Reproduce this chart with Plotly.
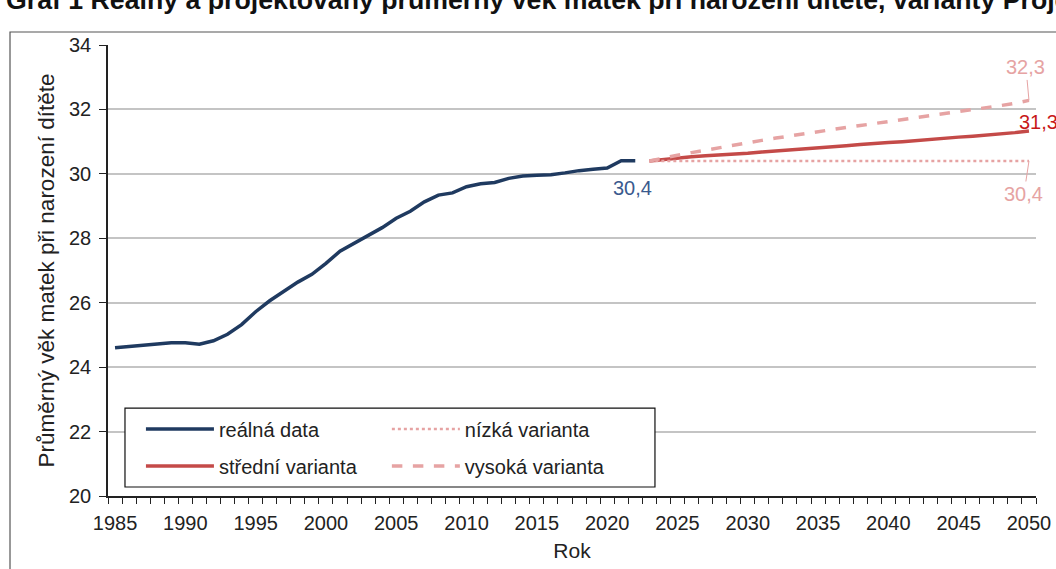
import plotly.graph_objects as go

# reálná data 1985-2022
years_real = list(range(1985, 2023))
age_real = [24.60, 24.64, 24.68, 24.72, 24.76, 24.76, 24.71, 24.82, 25.02, 25.32,
            25.72, 26.06, 26.34, 26.64, 26.88, 27.22, 27.60, 27.85, 28.10, 28.33,
            28.62, 28.84, 29.13, 29.34, 29.41, 29.60, 29.69, 29.73, 29.86, 29.93,
            29.96, 29.97, 30.03, 30.10, 30.14, 30.18, 30.41, 30.41]

# projekce 2023-2050
years_proj = list(range(2023, 2051))
age_low = [30.40, 30.40, 30.40, 30.40, 30.40, 30.40, 30.40, 30.40, 30.40, 30.40,
           30.40, 30.40, 30.40, 30.40, 30.40, 30.40, 30.40, 30.40, 30.40, 30.40,
           30.40, 30.40, 30.40, 30.40, 30.40, 30.40, 30.40, 30.40]
age_mid = [30.40, 30.45, 30.50, 30.53, 30.56, 30.58, 30.60, 30.64, 30.68, 30.71,
           30.74, 30.76, 30.79, 30.83, 30.87, 30.91, 30.95, 30.97, 31.00, 31.04,
           31.07, 31.11, 31.14, 31.17, 31.20, 31.24, 31.28, 31.33]
age_high = [30.40, 30.50, 30.58, 30.66, 30.74, 30.81, 30.88, 30.96, 31.04, 31.11,
            31.18, 31.25, 31.32, 31.38, 31.44, 31.50, 31.56, 31.62, 31.68, 31.74,
            31.80, 31.86, 31.92, 31.98, 32.05, 32.12, 32.19, 32.28]

x_ticks = list(range(1985, 2051, 5))
y_ticks = list(range(20, 35, 2))

navy = "#1f3a60"
red = "#c44a48"
pink = "#e6a3a3"
font = "Liberation Sans, Arial, sans-serif"


def fmt(v):
    return f"{v:.1f}".replace(".", ",")


fig = go.Figure()
fig.add_trace(go.Scatter(x=years_real, y=age_real, mode="lines", name="reálná data",
                         line=dict(color=navy, width=3.5), legend="legend", legendgroup="a"))
fig.add_trace(go.Scatter(x=years_proj, y=age_mid, mode="lines", name="střední varianta",
                         line=dict(color=red, width=3.5), legend="legend", legendgroup="b"))
fig.add_trace(go.Scatter(x=years_proj, y=age_low, mode="lines", name="nízká varianta",
                         line=dict(color=pink, width=2.5, dash="dot"), legend="legend2", legendgroup="c"))
fig.add_trace(go.Scatter(x=years_proj, y=age_high, mode="lines", name="vysoká varianta",
                         line=dict(color=pink, width=3.5, dash="dash"), legend="legend2", legendgroup="d"))

# popisky hodnot
fig.add_annotation(x=years_real[-1], y=age_real[-1], text=fmt(age_real[-1]), showarrow=False,
                   xshift=-3, yshift=-27, font=dict(color="#3a5a8e", size=20))
fig.add_annotation(x=years_proj[-1], y=age_high[-1], text=fmt(age_high[-1]), showarrow=True,
                   arrowhead=0, arrowwidth=1, arrowcolor=pink, ax=-3, ay=-33,
                   font=dict(color=pink, size=20))
fig.add_annotation(x=years_proj[-1], y=age_mid[-1], text=fmt(age_mid[-1]), showarrow=False,
                   xshift=10, yshift=9, font=dict(color="#c81818", size=20))
fig.add_annotation(x=years_proj[-1], y=age_low[-1], text=fmt(age_low[-1]), showarrow=True,
                   arrowhead=0, arrowwidth=1, arrowcolor=pink, ax=-5, ay=33,
                   font=dict(color=pink, size=20))

# titulek (oříznutý nahoře)
fig.add_annotation(xref="paper", yref="paper", x=-0.112, y=1.062, xanchor="left", yanchor="bottom",
                   text="<b>Graf 1 Reálný a projektovaný průměrný věk matek při narození dítěte, varianty Projekce 2023</b>",
                   showarrow=False, font=dict(size=26.7, color="#111"))

# rámeček grafu a legendy
fig.add_shape(type="rect", xref="paper", yref="paper", x0=-0.1056, x1=1.1, y0=-0.3, y1=1.0288,
              line=dict(color="#555", width=1.2), layer="below")
fig.add_shape(type="rect", xref="paper", yref="paper", x0=0.0183, x1=0.5894, y0=0.02, y1=0.195,
              line=dict(color="#111", width=1.2), fillcolor="white", layer="above")

fig.update_layout(
    width=1056, height=569,
    margin=dict(l=108, r=20, t=45, b=73),
    plot_bgcolor="white", paper_bgcolor="white",
    font=dict(family=font, size=20, color="#222"),
    legend=dict(x=0.0355, y=0.192, xanchor="left", yanchor="top", bgcolor="rgba(0,0,0,0)",
                tracegroupgap=8, itemwidth=68, font=dict(size=20)),
    legend2=dict(x=0.3005, y=0.192, xanchor="left", yanchor="top", bgcolor="rgba(0,0,0,0)",
                 tracegroupgap=8, itemwidth=68, font=dict(size=20)),
    xaxis=dict(range=[1984.5, 2050.5], tickvals=x_ticks, ticks="", showgrid=False, automargin=False,
               showline=True, linecolor="#222", linewidth=1.5, zeroline=False,
               tickfont=dict(size=20), ticklabelstandoff=8,
               minor=dict(ticks="outside", tick0=1984.5, dtick=1, ticklen=6, tickcolor="#222", showgrid=False),
               title=dict(text="Rok", font=dict(size=21), standoff=11)),
    yaxis=dict(range=[20, 34], tickvals=y_ticks, ticks="outside", ticklen=7, tickcolor="#222",
               ticklabelstandoff=4, tickfont=dict(size=20), automargin=False,
               showgrid=True, gridcolor="#c4c4c4", gridwidth=1.5,
               showline=True, linecolor="#222", linewidth=1.5, zeroline=False,
               title=dict(text="Průměrný věk matek při narození dítěte", font=dict(size=22.5), standoff=8)),
)

fig.write_html("out.html", config={"displayModeBar": False},
               post_script="document.body.style.margin='0';")
